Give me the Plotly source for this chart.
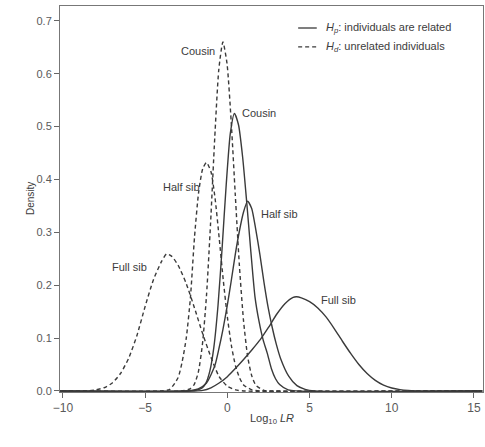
import plotly.graph_objects as go

# ---- Data ----
# Hd: unrelated individuals (dashed)
hd_fullsib_x = [-10.5, -8.5, -8, -7.5, -7, -6.5, -6, -5.5, -5, -4.5, -4, -3.7, -3.4, -3, -2.5, -2, -1.5, -1, -0.5, 0, 0.5, 1, 15.5]
hd_fullsib_y = [0, 0, 0.002, 0.006, 0.015, 0.033, 0.062, 0.105, 0.16, 0.21, 0.245, 0.259, 0.255, 0.238, 0.203, 0.157, 0.108, 0.064, 0.027, 0.009, 0.002, 0, 0]

hd_halfsib_x = [-10.5, -4, -3.5, -3, -2.75, -2.5, -2.25, -2, -1.75, -1.5, -1.27, -1, -0.75, -0.5, -0.25, 0, 0.25, 0.5, 0.75, 1, 1.5, 2, 15.5]
hd_halfsib_y = [0, 0, 0.003, 0.025, 0.055, 0.1, 0.175, 0.29, 0.375, 0.42, 0.432, 0.415, 0.365, 0.29, 0.21, 0.14, 0.085, 0.047, 0.024, 0.011, 0.002, 0, 0]

hd_cousin_x = [-10.5, -2.8, -2.27, -2.02, -1.77, -1.52, -1.27, -1.02, -0.77, -0.52, -0.27, -0.02, 0.23, 0.48, 0.73, 0.98, 1.23, 1.48, 1.73, 2.23, 2.7, 15.5]
hd_cousin_y = [0, 0, 0.004, 0.012, 0.035, 0.087, 0.18, 0.318, 0.477, 0.608, 0.66, 0.619, 0.511, 0.372, 0.238, 0.134, 0.066, 0.029, 0.011, 0.001, 0, 0]

# Hp: individuals are related (solid)
hp_cousin_x = [-10.5, -2.3, -1.57, -1.32, -1.07, -0.82, -0.57, -0.32, -0.07, 0.18, 0.43, 0.68, 0.93, 1.18, 1.43, 1.68, 1.93, 2.18, 2.43, 2.68, 2.93, 3.18, 3.7, 15.5]
hp_cousin_y = [0, 0, 0.005, 0.014, 0.037, 0.083, 0.161, 0.27, 0.39, 0.487, 0.525, 0.503, 0.442, 0.356, 0.263, 0.178, 0.131, 0.096, 0.071, 0.042, 0.023, 0.012, 0.002, 0]

hp_halfsib_x = [-10.5, -2.6, -1.77, -1.27, -0.77, -0.52, -0.27, -0.02, 0.23, 0.48, 0.73, 0.98, 1.23, 1.48, 1.73, 1.98, 2.23, 2.48, 2.73, 2.98, 3.23, 3.73, 4.23, 4.73, 5.3, 15.5]
hp_halfsib_y = [0, 0, 0.004, 0.015, 0.047, 0.079, 0.116, 0.159, 0.207, 0.258, 0.302, 0.338, 0.359, 0.345, 0.305, 0.258, 0.205, 0.158, 0.12, 0.088, 0.062, 0.028, 0.01, 0.003, 0, 0]

hp_fullsib_x = [-10.5, -2, -1.5, -1, -0.5, 0, 0.5, 1, 1.5, 2, 2.5, 3, 3.5, 4, 4.21, 4.5, 5, 5.5, 6, 6.5, 7, 7.5, 8, 8.5, 9, 9.5, 10, 10.5, 11, 12, 15.5]
hp_fullsib_y = [0, 0, 0.001, 0.006, 0.015, 0.027, 0.043, 0.06, 0.078, 0.097, 0.12, 0.145, 0.165, 0.177, 0.178, 0.176, 0.169, 0.157, 0.14, 0.118, 0.094, 0.071, 0.05, 0.033, 0.02, 0.011, 0.0055, 0.0025, 0.001, 0, 0]

# curve labels (data coords) and texts
label_text = ["Cousin", "Cousin", "Half sib", "Half sib", "Full sib", "Full sib"]
label_x = [-0.6, 0.75, -1.55, 1.9, -4.75, 5.6]
label_y = [0.643, 0.525, 0.385, 0.335, 0.234, 0.172]
label_anchor = ["right", "left", "right", "left", "right", "left"]

legend_text = ["<i>H<sub>p</sub></i>: individuals are related", "<i>H<sub>d</sub></i>: unrelated individuals"]
legend_dash = ["solid", "4px,3px"]

x_ticks = [-10, -5, 0, 5, 10, 15]
y_ticks = [0.0, 0.1, 0.2, 0.3, 0.4, 0.5, 0.6, 0.7]

LINE = "#3a3a3a"
TXT = "#3c3c3c"
TICK = "#5a5a5a"
FONT = "Liberation Sans, Arial, sans-serif"

fig = go.Figure()

def add(x, y, dash):
    fig.add_trace(go.Scatter(
        x=x, y=y, mode="lines",
        line=dict(color=LINE, width=1.4, dash=dash, shape="spline", smoothing=0.6),
        showlegend=False, hoverinfo="skip"))

add(hp_cousin_x, hp_cousin_y, "solid")
add(hp_halfsib_x, hp_halfsib_y, "solid")
add(hp_fullsib_x, hp_fullsib_y, "solid")
add(hd_cousin_x, hd_cousin_y, "4px,3px")
add(hd_halfsib_x, hd_halfsib_y, "4px,3px")
add(hd_fullsib_x, hd_fullsib_y, "4px,3px")

for t, x, y, a in zip(label_text, label_x, label_y, label_anchor):
    fig.add_annotation(x=x, y=y, text=t, showarrow=False, xanchor=a, yanchor="middle",
                       font=dict(family=FONT, size=11, color=TXT))

# manual legend (paper coordinates)
leg_y = [0.943, 0.894]
for t, d, yy in zip(legend_text, legend_dash, leg_y):
    fig.add_shape(type="line", xref="paper", yref="paper", x0=0.563, x1=0.607, y0=yy, y1=yy,
                  line=dict(color=LINE, width=1.3, dash=d))
    fig.add_annotation(xref="paper", yref="paper", x=0.624, y=yy, text=t, showarrow=False,
                       xanchor="left", yanchor="middle", font=dict(family=FONT, size=11, color=TXT))

fig.add_annotation(xref="paper", yref="paper", x=0.5, y=0, yshift=-27, text="Log<sub>10</sub> <i>LR</i>",
                   showarrow=False, font=dict(family=FONT, size=11, color=TXT), xanchor="center", yanchor="middle")
fig.add_annotation(xref="paper", yref="paper", x=0, xshift=-30, y=0.5, text="Density", textangle=-90,
                   showarrow=False, font=dict(family=FONT, size=10, color=TXT), xanchor="center", yanchor="middle")

fig.update_layout(
    width=485, height=447,
    margin=dict(l=60, r=2, t=6, b=55, autoexpand=False),
    paper_bgcolor="white", plot_bgcolor="white",
    font=dict(family=FONT, size=11, color=TICK),
    showlegend=False,
    xaxis=dict(range=[-10.18, 15.55], tickvals=x_ticks,
               ticktext=[("\u2212" + str(-v)) if v < 0 else str(v) for v in x_ticks],
               showgrid=False, zeroline=False, showline=True, linecolor="#777", linewidth=1, mirror=True,
               ticks="outside", ticklen=5, tickcolor="#666", automargin=False,
               tickfont=dict(family=FONT, size=12, color=TICK)),
    yaxis=dict(range=[-0.002, 0.728], tickvals=y_ticks, ticktext=["%.1f" % v for v in y_ticks],
               showgrid=False, zeroline=False, showline=True, linecolor="#777", linewidth=1, mirror=True,
               ticks="outside", ticklen=5, tickcolor="#666", automargin=False,
               tickfont=dict(family=FONT, size=11, color=TICK)),
)

fig.write_html("out.html", config={"displayModeBar": False},
               post_script="document.body.style.margin='0';document.body.style.padding='0';document.body.style.overflow='hidden';")
